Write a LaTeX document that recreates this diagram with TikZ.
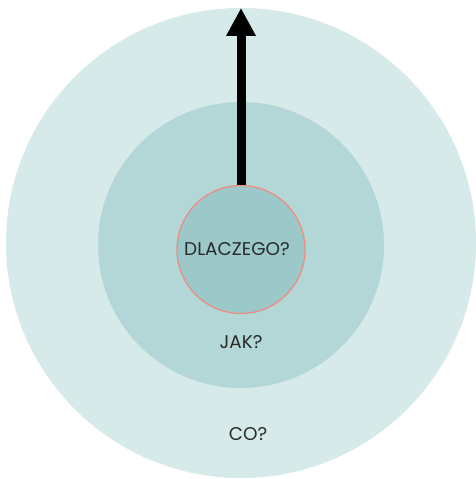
\documentclass[tikz,border=0pt]{standalone}
\usepackage{fontspec}
\setmainfont{Poppins}
\usetikzlibrary{arrows.meta}
\definecolor{ringout}{HTML}{D6EAEA}
\definecolor{ringmid}{HTML}{B3D6D7}
\definecolor{ringin}{HTML}{9DC8C9}
\definecolor{ringedge}{HTML}{F08A7E}
\definecolor{labelink}{HTML}{2A2A2A}
\tikzset{
  ring/.style={circle, inner sep=0pt, draw=none},
  lbl/.style={text=labelink, font=\fontsize{18.5}{22}\selectfont, inner sep=0pt}
}
\begin{document}
\begin{tikzpicture}[x=1bp, y=-1bp]
  \useasboundingbox (0,0) rectangle (476,479);
  \fill[white] (0,0) rectangle (476,479);
  % concentric rings
  \node[ring, fill=ringout, minimum size=470bp] (co) at (241,243) {};
  \node[ring, fill=ringmid, minimum size=286bp] (jak) at (241,245) {};
  \node[ring, fill=ringin, draw=ringedge, line width=1.2bp, minimum size=128bp] (why) at (241,249.5) {};
  % labels
  \node[lbl] (twhy) at (237,249.5) {DLACZEGO?};
  \node[lbl] (tjak) at (241,342.5) {JAK?};
  \node[lbl] (tco) at (248,434.5) {CO?};
  % arrow from the core outward
  \coordinate (tip) at (241,8);
  \draw[line width=9bp, -{Triangle[width=28bp,length=28bp]}] (why.north) -- (tip);
\end{tikzpicture}
\end{document}
